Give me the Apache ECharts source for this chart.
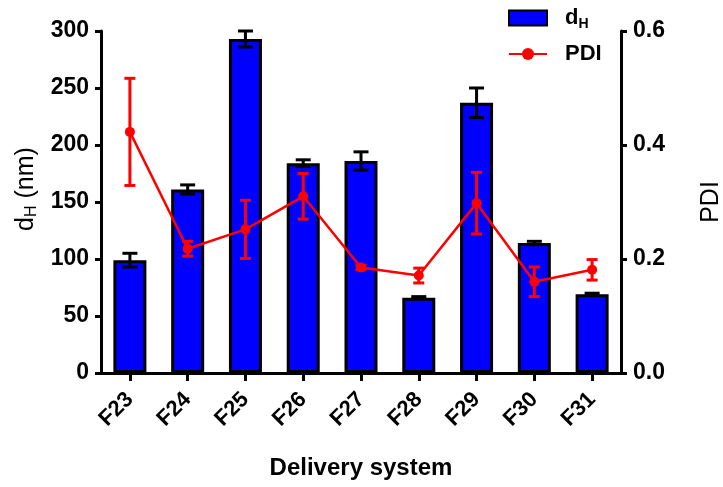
<!DOCTYPE html>
<html><head><meta charset="utf-8">
<script src="https://cdn.jsdelivr.net/npm/echarts@6/dist/echarts.min.js"></script>
<style>html,body{margin:0;padding:0;background:#fff}#c{width:723px;height:487px}</style>
</head><body><div id="c"></div>
<script>
var categories = ['F23','F24','F25','F26','F27','F28','F29','F30','F31'];
var dH = [99, 161, 293, 184, 186, 66, 237, 114, 69];
var dHErr = [6, 4, 7, 3, 8, 1, 13, 1.5, 1];
var PDI = [0.423, 0.218, 0.252, 0.310, 0.185, 0.171, 0.298, 0.160, 0.181];
var PDIErr = [0.094, 0.013, 0.051, 0.040, 0.004, 0.013, 0.054, 0.026, 0.018];
var leftTicks = {min: 0, max: 300, interval: 50};
var rightTicks = {min: 0, max: 0.6, interval: 0.2};

var FONT = 'Liberation Sans, Arial, sans-serif';
function errData(vals, errs){
  return vals.map(function(v,i){ return [i, v - errs[i], v + errs[i]]; });
}
function errRender(color, capW){
  return function(params, api){
    var x = api.value(0);
    var lo = api.coord([x, api.value(1)]);
    var hi = api.coord([x, api.value(2)]);
    var st = {stroke: color, lineWidth: 3};
    return {type:'group', children:[
      {type:'line', shape:{x1:lo[0], y1:lo[1], x2:hi[0], y2:hi[1]}, style:st},
      {type:'line', shape:{x1:lo[0]-capW/2, y1:lo[1], x2:lo[0]+capW/2, y2:lo[1]}, style:st},
      {type:'line', shape:{x1:hi[0]-capW/2, y1:hi[1], x2:hi[0]+capW/2, y2:hi[1]}, style:st}
    ]};
  };
}
var axisLine = {show:true, lineStyle:{color:'#000', width:3}};
var axisTick = {show:true, length:6, lineStyle:{color:'#000', width:3}};
var chart = echarts.init(document.getElementById('c'));
chart.setOption({
  animation:false,
  grid:{left:101, right:102, top:31, bottom:114, containLabel:false, outerBoundsMode:'none'},
  legend:{
    orient:'vertical', left:508, top:7, padding:0, itemWidth:38, itemHeight:15, itemGap:12,
    data:[{name:'dH', icon:'rect'}, {name:'PDI'}],
    textStyle:{fontFamily:FONT, fontSize:22, fontWeight:'bold', color:'#000', padding:[0,0,0,13],
      rich:{b:{fontFamily:FONT, fontSize:22, fontWeight:'bold', color:'#000'},
            s:{fontFamily:FONT, fontSize:14, fontWeight:'bold', color:'#000', padding:[12,0,0,0]}}},
    formatter:function(n){ return n==='dH' ? '{b|d}{s|H}' : '{b|PDI}'; }
  },
  xAxis:{
    type:'category', data:categories,
    axisLine:axisLine,
    axisTick:{show:true, alignWithLabel:true, length:8, lineStyle:{color:'#000', width:3}},
    axisLabel:{rotate:45, fontFamily:FONT, fontSize:22, fontWeight:'bold', color:'#000', margin:23},
    name:'Delivery system', nameLocation:'middle', nameGap:83,
    nameTextStyle:{fontFamily:FONT, fontSize:24, fontWeight:'bold', color:'#000'}
  },
  yAxis:[{
    type:'value', min:leftTicks.min, max:leftTicks.max, interval:leftTicks.interval, position:'left',
    axisLine:axisLine, axisTick:axisTick, splitLine:{show:false},
    axisLabel:{fontFamily:FONT, fontSize:23, fontWeight:'bold', color:'#000', margin:12},
    name:'{a|d}{s|H}{a| (nm)}', nameLocation:'middle', nameGap:48, nameRotate:90,
    nameTextStyle:{padding:[0,0,0,26], rich:{a:{fontFamily:FONT, fontSize:25, color:'#000'}, s:{fontFamily:FONT, fontSize:16, color:'#000', padding:[12,0,0,0]}}}
  },{
    type:'value', min:rightTicks.min, max:rightTicks.max, interval:rightTicks.interval, position:'right',
    axisLine:axisLine, axisTick:axisTick, splitLine:{show:false},
    axisLabel:{fontFamily:FONT, fontSize:23, fontWeight:'bold', color:'#000', margin:12,
      formatter:function(v){return v.toFixed(1);}},
    name:'PDI', nameLocation:'middle', nameGap:78, nameRotate:90,
    nameTextStyle:{fontFamily:FONT, fontSize:25, color:'#000'}
  }],
  series:[
    {name:'dH', type:'bar', data:dH, barWidth:33, yAxisIndex:0,
     itemStyle:{color:'#0000ff', borderColor:'#000', borderWidth:3}},
    {name:'dHErr', type:'custom', yAxisIndex:0, data:errData(dH, dHErr),
     renderItem:errRender('#000', 15), z:3},
    {name:'PDI', type:'line', data:PDI, yAxisIndex:1, symbol:'circle', symbolSize:10,
     lineStyle:{color:'#ff0000', width:2.5}, itemStyle:{color:'#ff0000'}, z:5},
    {name:'PDIErr', type:'custom', yAxisIndex:1, data:errData(PDI, PDIErr),
     renderItem:errRender('#ff0000', 11), z:6}
  ]
});
</script></body></html>
